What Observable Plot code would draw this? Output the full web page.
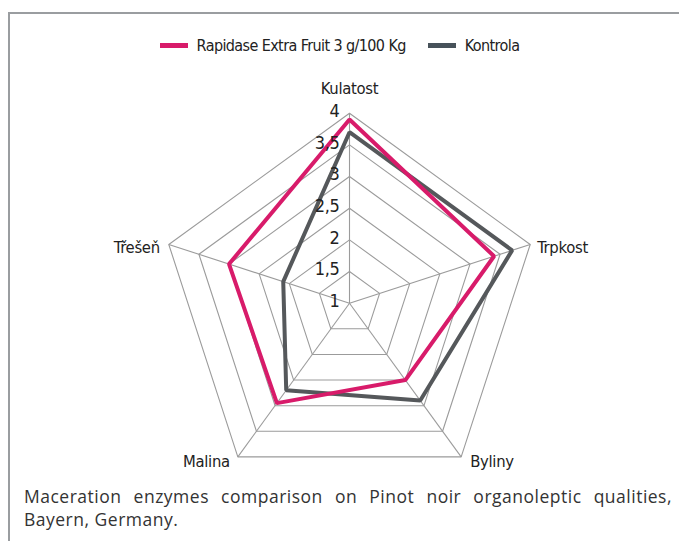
<!DOCTYPE html>
<html>
<head>
<meta charset="utf-8">
<script src="https://cdn.jsdelivr.net/npm/d3@7"></script>
<script src="https://cdn.jsdelivr.net/npm/@observablehq/plot@0.6"></script>
<style>
  html, body { margin: 0; padding: 0; background: #fff; }
  body { width: 679px; height: 541px; position: relative; overflow: hidden; }
  #frame { position: absolute; left: 8px; top: 12px; width: 700px; height: 527px;
           border-left: 2px solid #9a9da0; border-top: 2px solid #9a9da0; }
  #chart { position: absolute; left: 0; top: 0; }
  #chart text { font-stretch: condensed; letter-spacing: -0.3px; }
  #legend { position: absolute; top: 36px; left: 0; width: 679px; display: flex; justify-content: center;
            font-family: "DejaVu Sans", sans-serif; font-stretch: condensed; font-size: 16px;
            letter-spacing: -0.6px; color: #222; }
  .item { display: flex; align-items: center; margin: 0 11px; }
  .sw { width: 28px; height: 5px; margin-right: 9px; }
  #caption { position: absolute; left: 24px; top: 485px; width: 648px; text-align: justify;
             font-family: "Open Sans", sans-serif; font-size: 17.5px; letter-spacing: 0.5px;
             line-height: 23px; color: #333; }
</style>
</head>
<body>
<div id="frame"></div>
<div id="chart"></div>
<div id="legend"></div>
<div id="caption">Maceration enzymes comparison on Pinot noir organoleptic qualities, Bayern, Germany.</div>
<script>
// ---- data ----
const categories = ["Kulatost", "Trpkost", "Byliny", "Malina", "Třešeň"];
const seriesNames = ["Rapidase Extra Fruit 3 g/100 Kg", "Kontrola"];
const rapidase = [3.9, 3.4, 2.5, 2.95, 3.0];
const kontrola = [3.7, 3.7, 2.9, 2.7, 2.1];
const tickValues = [1, 1.5, 2, 2.5, 3, 3.5, 4];
const tickLabels = ["1", "1,5", "2", "2,5", "3", "3,5", "4"];

// ---- styles ----
const colors = ["#d81b6a", "#55585b"];
const legendColors = ["#d81b6a", "#47525a"];
const labelFont = "'DejaVu Sans', sans-serif";
const labelStyle = {
  "Kulatost": {anchor: "middle", dx: 0, dy: -24},
  "Trpkost": {anchor: "start", dx: 7, dy: 3},
  "Byliny": {anchor: "start", dx: 9, dy: 5},
  "Malina": {anchor: "end", dx: -8, dy: 5},
  "Třešeň": {anchor: "end", dx: -9, dy: 3}
};

const minV = tickValues[0], maxV = tickValues[tickValues.length - 1];
const angle = (i) => (i * 2 * Math.PI) / categories.length;
const px = (i, v) => (v - minV) * Math.sin(angle(i));
const py = (i, v) => (v - minV) * Math.cos(angle(i));

const rings = tickValues.slice(1).flatMap((t) => categories.map((c, i) => ({t, i})));
const spokes = categories.map((c, i) => ({c, i}));
const points = [
  ...categories.map((c, i) => ({series: seriesNames[1], i, v: kontrola[i]})),
  ...categories.map((c, i) => ({series: seriesNames[0], i, v: rapidase[i]}))
];
const ticks = tickValues.map((t, k) => ({t, label: tickLabels[k]}));

const R = maxV - minV;
const plot = Plot.plot({
  width: 679,
  height: 480,
  x: {domain: [-R, R], range: [159, 539], axis: null},
  y: {domain: [-R, R], range: [492.7, 112.7], axis: null},
  color: {domain: seriesNames, range: colors},
  marks: [
    Plot.line(rings, {x: (d) => px(d.i, d.t), y: (d) => py(d.i, d.t), z: "t", curve: "linear-closed",
      stroke: "#9b9b9b", strokeWidth: 1.1}),
    Plot.link(spokes, {x1: 0, y1: 0, x2: (d) => px(d.i, maxV), y2: (d) => py(d.i, maxV),
      stroke: "#9b9b9b", strokeWidth: 1.1}),
    Plot.line(points, {x: (d) => px(d.i, d.v), y: (d) => py(d.i, d.v), z: "series", stroke: "series",
      curve: "linear-closed", strokeWidth: 4, strokeLinejoin: "miter"}),
    Plot.text(ticks, {x: 0, y: (d) => d.t - minV, text: "label", textAnchor: "end", dx: -10, dy: -2,
      fontSize: 18, fontFamily: labelFont, fill: "#222"}),
    ...categories.map((c, i) => Plot.text([c], {x: px(i, maxV), y: py(i, maxV), text: (d) => d,
      textAnchor: labelStyle[c].anchor, dx: labelStyle[c].dx, dy: labelStyle[c].dy,
      fontSize: 16.5, fontFamily: labelFont, fill: "#222"}))
  ]
});
document.getElementById("chart").appendChild(plot);

const legend = document.getElementById("legend");
seriesNames.forEach((name, k) => {
  const item = document.createElement("div");
  item.className = "item";
  const sw = document.createElement("div");
  sw.className = "sw";
  sw.style.background = legendColors[k];
  const tx = document.createElement("span");
  tx.textContent = name;
  item.appendChild(sw); item.appendChild(tx);
  legend.appendChild(item);
});
</script>
</body>
</html>
